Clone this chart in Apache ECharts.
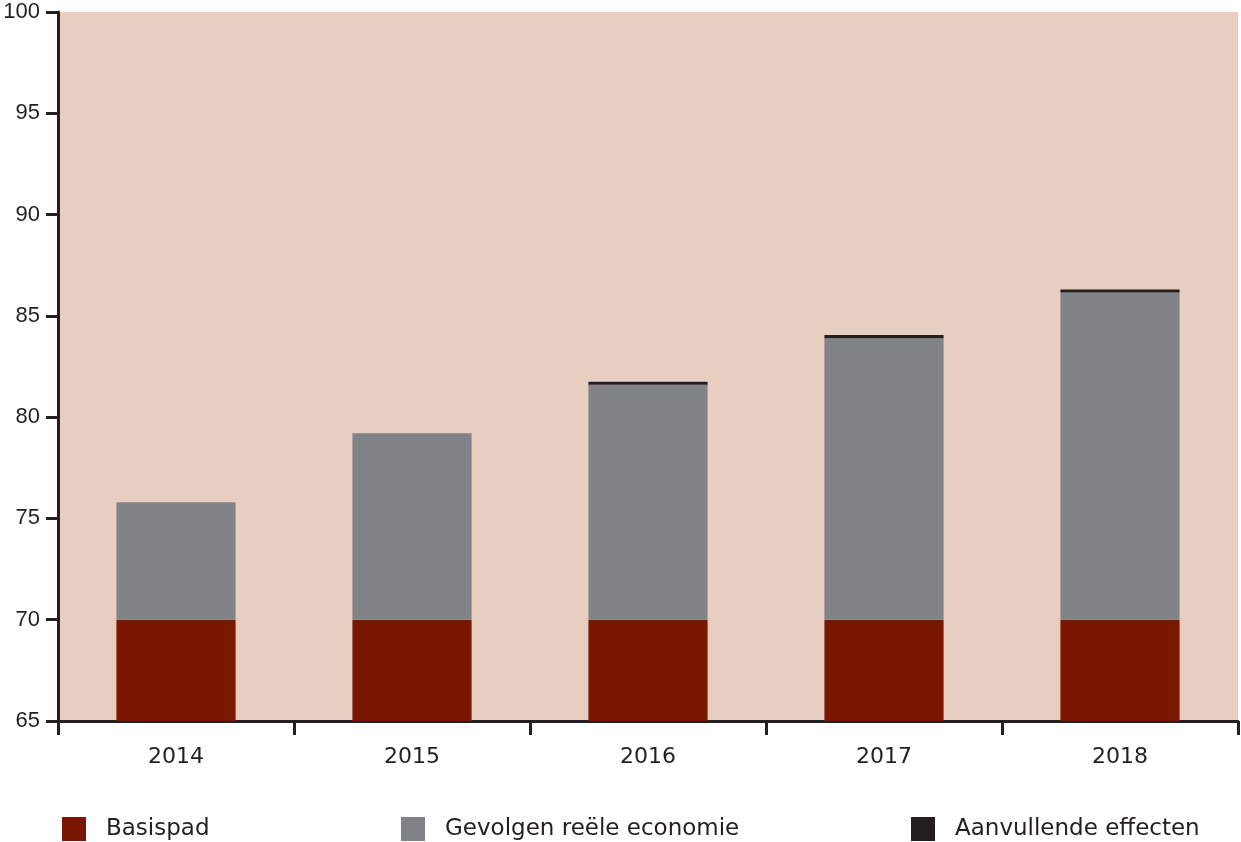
<!DOCTYPE html>
<html>
<head>
<meta charset="utf-8">
<script src="https://cdn.jsdelivr.net/npm/echarts@6/dist/echarts.min.js"></script>
<style>html,body{margin:0;padding:0;background:#fff;}#c{width:1241px;height:842px;}</style>
</head>
<body>
<div id="c"></div>
<script>
const categories = ['2014', '2015', '2016', '2017', '2018'];
const basispad = [70, 70, 70, 70, 70];
const gevolgen = [5.8, 9.2, 11.6, 13.9, 16.15];
const aanvullend = ['-', '-', 0.15, 0.15, 0.15];
const yTicks = [65, 70, 75, 80, 85, 90, 95, 100];

const txt = '#231f20';
const font = 'Liberation Sans';
const wide = 'DejaVu Sans';
const chart = echarts.init(document.getElementById('c'));
function lg(name, left) {
  return {
    data: [name], left: left, top: 812, itemWidth: 24, itemHeight: 24, itemGap: 0,
    icon: 'rect', textStyle: { fontSize: 23, color: txt, fontFamily: wide, padding: [0, 0, 0, 15] },
    selectedMode: false
  };
}
chart.setOption({
  animation: false,
  grid: { left: 58, right: 3, top: 12, bottom: 121, show: true, backgroundColor: '#e8cdc1', borderWidth: 0 },
  legend: [lg('Basispad', 57), lg('Gevolgen reële economie', 396), lg('Aanvullende effecten', 906)],
  xAxis: {
    type: 'category', data: categories,
    axisLine: { lineStyle: { color: txt, width: 3 } },
    axisTick: { show: true, length: 14, lineStyle: { color: txt, width: 3 } },
    axisLabel: { fontSize: 22, color: txt, fontFamily: wide, margin: 25 }
  },
  yAxis: {
    type: 'value', min: yTicks[0], max: yTicks[yTicks.length - 1], interval: 5,
    splitLine: { show: false },
    axisLine: { show: true, lineStyle: { color: txt, width: 3 } },
    axisTick: { show: true, length: 12, lineStyle: { color: txt, width: 3 } },
    axisLabel: { fontSize: 22, color: txt, fontFamily: font, margin: 18 }
  },
  series: [
    { name: 'Basispad', type: 'bar', stack: 's', data: basispad, barWidth: '50.5%', itemStyle: { color: '#7a1700' } },
    { name: 'Gevolgen reële economie', type: 'bar', stack: 's', data: gevolgen, itemStyle: { color: '#828387' } },
    { name: 'Aanvullende effecten', type: 'bar', stack: 's', data: aanvullend, itemStyle: { color: '#231f20' } }
  ]
});
</script>
</body>
</html>
